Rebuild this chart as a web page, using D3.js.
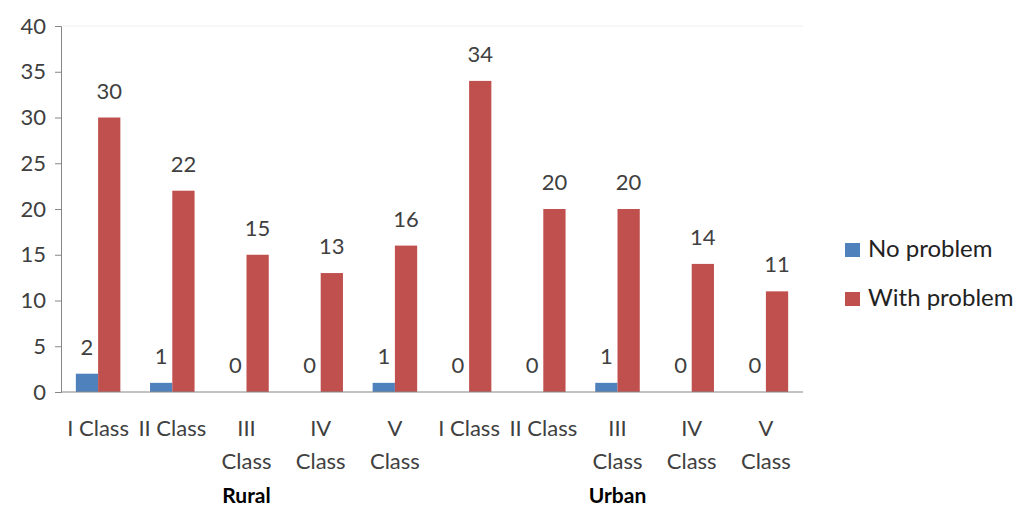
<!DOCTYPE html>
<html>
<head>
<meta charset="utf-8">
<script src="https://d3js.org/d3.v7.min.js"></script>
<style>
    body { margin: 0; background: #fff; }
    text { font-family: Lato, "Open Sans", sans-serif; fill: #404040; }
</style>
</head>
<body>
<svg id="chart" width="1021" height="509"></svg>
<script>
// Data
const groups = ["Rural", "Urban"];
const classes = ["I Class", "II Class", "III Class", "IV Class", "V Class"];
const classLines = [["I Class"], ["II Class"], ["III", "Class"], ["IV", "Class"], ["V", "Class"]];
const seriesNames = ["No problem", "With problem"];
const noProblem = [2, 1, 0, 0, 1, 0, 0, 1, 0, 0];
const withProblem = [30, 22, 15, 13, 16, 34, 20, 20, 14, 11];
const yTicks = [0, 5, 10, 15, 20, 25, 30, 35, 40];
const colors = ["#4F81BD", "#C0504D"];

const svg = d3.select("#chart");
const margin = {top: 26, left: 61, right: 218, bottom: 117};
const width = 1021 - margin.left - margin.right;
const height = 509 - margin.top - margin.bottom;

const cats = [];
groups.forEach(g => classes.forEach((c, i) => cats.push({group: g, cls: c, lines: classLines[i]})));
const keys = cats.map((d, i) => i);

const x = d3.scaleBand().domain(keys).range([0, width]).paddingInner(0.4).paddingOuter(0.2);
const xSub = d3.scaleBand().domain([0, 1]).range([0, x.bandwidth()]);
const y = d3.scaleLinear().domain([0, 40]).range([height, 0]);

const g = svg.append("g").attr("transform", `translate(${margin.left},${margin.top})`);

// faint top border
g.append("line").attr("x1", 0).attr("x2", width).attr("y1", 0).attr("y2", 0)
    .attr("stroke", "#f0f0f0");

// y axis
const yAxis = g.append("g").call(d3.axisLeft(y).tickValues(yTicks).tickSize(6).tickPadding(9));
yAxis.select(".domain").attr("stroke", "#868686");
yAxis.selectAll(".tick line").attr("stroke", "#868686");
yAxis.selectAll("text").style("font-size", "22px").attr("fill", "#404040");

// bars
const series = [noProblem, withProblem];
series.forEach((vals, s) => {
    g.selectAll(".bar" + s).data(vals).join("rect")
        .attr("x", (d, i) => x(i) + xSub(s))
        .attr("y", d => y(d))
        .attr("width", xSub.bandwidth())
        .attr("height", d => height - y(d))
        .attr("fill", colors[s]);
    g.selectAll(".lab" + s).data(vals).join("text")
        .attr("x", (d, i) => x(i) + xSub(s) + xSub.bandwidth() / 2)
        .attr("y", d => y(d) - 19)
        .attr("text-anchor", "middle")
        .style("font-size", "22px")
        .text(d => d);
});

// x axis line
g.append("line").attr("x1", 0).attr("x2", width).attr("y1", height).attr("y2", height)
    .attr("stroke", "#868686");

// category labels
cats.forEach((c, i) => {
    const t = g.append("text")
        .attr("x", x(i) + x.bandwidth() / 2)
        .attr("y", height + 44)
        .attr("text-anchor", "middle")
        .style("font-size", "22px");
    c.lines.forEach((ln, j) => {
        t.append("tspan").attr("x", x(i) + x.bandwidth() / 2)
            .attr("dy", j === 0 ? 0 : 33).text(ln);
    });
});

// group labels
const step = width / cats.length;
groups.forEach((gr, k) => {
    g.append("text")
        .attr("x", step * (k * 5 + 2.5))
        .attr("y", height + 111)
        .attr("text-anchor", "middle")
        .style("font-size", "21px")
        .style("font-weight", "bold")
        .style("fill", "#000")
        .text(gr);
});

// legend
const legend = svg.append("g").attr("transform", "translate(845,240)");
seriesNames.forEach((n, i) => {
    const row = legend.append("g").attr("transform", `translate(0,${i * 49})`);
    row.append("rect").attr("width", 15).attr("height", 14).attr("y", 3).attr("fill", colors[i]);
    row.append("text").attr("x", 23).attr("y", 17)
        .style("font-size", "24px").style("fill", "#222").text(n);
});
</script>
</body>
</html>
